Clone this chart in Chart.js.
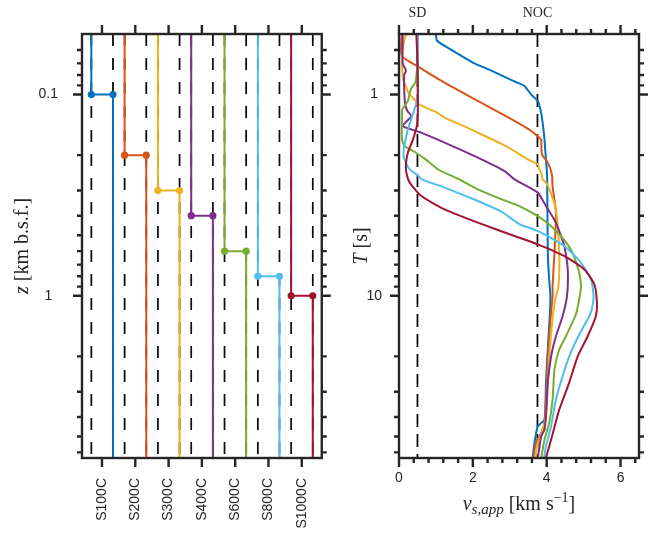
<!DOCTYPE html>
<html>
<head>
<meta charset="utf-8">
<script src="https://cdn.jsdelivr.net/npm/chart.js@4"></script>
<style>
  html, body { margin: 0; padding: 0; background: #fff; }
  #wrap { position: relative; width: 657px; height: 534px; overflow: hidden; background: #fff; }
  canvas { position: absolute; top: 0; }
  #depthChart { left: 0; }
  #periodChart { left: 340px; }
</style>
</head>
<body>
<div id="wrap">
  <canvas id="depthChart" width="340" height="534"></canvas>
  <canvas id="periodChart" width="317" height="534"></canvas>
</div>
<script>
// ---------------- model set ----------------
const models = ['S100C', 'S200C', 'S300C', 'S400C', 'S600C', 'S800C', 'S1000C'];
const interfaceDepth = [0.1, 0.2, 0.3, 0.4, 0.6, 0.8, 1.0];          // km b.s.f.
const modelColors = ['#0072BD', '#D95319', '#EDB120', '#7E2F8E', '#77AC30', '#4DBEEE', '#A2142F'];

// reference shear velocities (km/s)
const refVelocity = [0.5, 3.75];
const refLabels = ['SD', 'NOC'];

const depthRange = [0.05, 6.4];     // km b.s.f.
const periodRange = [0.5, 64];      // s
const velocityRange = [0, 6.5];     // km/s

// ---------------- apparent velocity vs period ----------------
const period_S100C = [0.5, 0.54, 0.6, 0.693, 0.76, 0.823, 0.872, 0.906, 1.0, 1.076, 1.183, 1.378, 1.669, 2.1, 2.5, 4.0, 6.0, 8.0, 10.0, 12.0, 15.9, 27.0, 41.3, 44.5, 53.7, 64];
const vs_S100C     = [1.00, 1.03, 1.42, 2.00, 2.50, 2.90, 3.20, 3.40, 3.58, 3.76, 3.83, 3.89, 3.94, 3.98, 4.01, 4.02, 4.03, 4.06, 4.10, 4.09, 4.05, 3.98, 3.94, 3.76, 3.67, 3.62];

const period_S200C = [0.5, 0.643, 0.734, 0.872, 1.076, 1.353, 1.517, 1.637, 1.669, 1.98, 2.18, 2.49, 2.85, 3.87, 6.1, 8.94, 10.0, 12.0, 15.9, 20.7, 32.9, 42.7, 48, 53.8, 64];
const vs_S200C     = [0.07, 0.08, 0.56, 1.235, 2.135, 3.127, 3.58, 3.80, 3.85, 3.87, 4.03, 4.14, 4.16, 4.25, 4.21, 4.16, 4.16, 4.12, 4.07, 4.03, 3.98, 3.94, 3.85, 3.71, 3.64];

const period_S300C = [0.5, 0.531, 0.6, 0.693, 0.839, 0.923, 0.977, 1.06, 1.139, 1.22, 1.301, 1.42, 1.546, 1.75, 1.909, 2.099, 2.222, 2.353, 2.444, 2.64, 2.75, 3.0, 3.72, 6.11, 8.96, 10.05, 12.39, 19.98, 39.7, 46.3, 53.7, 64];
const vs_S300C     = [0.20, 0.15, 0.10, 0.08, 0.11, 0.20, 0.25, 0.42, 0.62, 1.0, 1.235, 1.70, 2.135, 2.75, 3.127, 3.486, 3.757, 3.80, 3.85, 3.89, 3.99, 4.09, 4.25, 4.34, 4.32, 4.25, 4.17, 4.07, 3.98, 3.89, 3.76, 3.68];

const period_S400C = [0.5, 0.7, 0.76, 0.80, 1.1, 1.2, 1.28, 1.433, 1.546, 1.733, 2.058, 2.40, 2.64, 3.07, 3.40, 3.8, 4.33, 5.0, 5.67, 7.4, 10.05, 12.64, 15.89, 19.98, 27.0, 39.7, 46.3, 50, 64];
const vs_S400C     = [0.10, 0.10, 0.19, 0.14, 0.16, 0.22, 0.33, 0.11, 0.60, 1.235, 2.135, 2.86, 3.13, 3.76, 3.91, 4.07, 4.25, 4.38, 4.48, 4.57, 4.55, 4.43, 4.25, 4.12, 4.03, 3.98, 3.94, 3.85, 3.76];

const period_S600C = [0.5, 0.6, 0.72, 0.808, 0.872, 0.94, 1.076, 1.183, 1.3, 1.669, 1.80, 1.94, 2.1, 2.35, 2.62, 2.96, 3.3, 3.583, 4.02, 4.4, 4.86, 5.5, 6.11, 6.85, 7.68, 8.96, 10.4, 12.39, 15.89, 18.5, 23.3, 32.8, 42.7, 51.9, 64];
const vs_S600C     = [0.51, 0.51, 0.50, 0.47, 0.44, 0.32, 0.24, 0.09, 0.08, 0.08, 0.15, 0.45, 0.72, 1.05, 1.6, 2.135, 2.75, 3.26, 3.76, 4.05, 4.30, 4.55, 4.70, 4.80, 4.88, 4.93, 4.88, 4.79, 4.52, 4.34, 4.21, 4.16, 4.07, 3.94, 3.85];

const period_S800C = [0.5, 1.0, 1.1, 1.278, 1.45, 1.6, 1.87, 2.05, 2.33, 2.52, 2.64, 2.9, 3.38, 3.8, 4.40, 4.77, 5.2, 5.665, 6.3, 6.85, 8.3, 10.05, 11.7, 12.64, 15.89, 19.98, 25.12, 32.8, 44.5, 56, 64];
const vs_S800C     = [0.51, 0.51, 0.47, 0.36, 0.26, 0.20, 0.13, 0.13, 0.27, 0.50, 0.62, 1.235, 2.135, 2.75, 3.26, 3.76, 4.15, 4.48, 4.75, 4.93, 5.20, 5.27, 5.22, 5.15, 4.86, 4.61, 4.43, 4.25, 4.12, 3.98, 3.93];

const period_S1000C = [0.5, 0.693, 1.016, 1.378, 1.669, 1.943, 2.2, 2.45, 2.74, 3.195, 3.721, 4.33, 5.145, 5.556, 6.353, 7.398, 8.786, 10.83, 12.64, 15.89, 19.98, 27.0, 36.8, 47.2, 64];
const vs_S1000C     = [0.47, 0.50, 0.51, 0.50, 0.38, 0.24, 0.19, 0.20, 0.29, 0.605, 1.235, 2.135, 3.26, 3.76, 4.48, 5.02, 5.29, 5.36, 5.33, 5.11, 4.84, 4.61, 4.34, 4.18, 3.98];

const periods = [period_S100C, period_S200C, period_S300C, period_S400C, period_S600C, period_S800C, period_S1000C];
const velocities = [vs_S100C, vs_S200C, vs_S300C, vs_S400C, vs_S600C, vs_S800C, vs_S1000C];

// ---------------- tick values ----------------
const depthMajor = [0.1, 1];
const depthMinor = [0.06, 0.07, 0.08, 0.09, 0.2, 0.3, 0.4, 0.5, 0.6, 0.7, 0.8, 0.9, 2, 3, 4, 5, 6];
const periodMajor = [1, 10];
const periodMinor = [0.6, 0.7, 0.8, 0.9, 2, 3, 4, 5, 6, 7, 8, 9, 20, 30, 40, 50, 60];
const velocityMajor = [0, 2, 4, 6];
const velocityMinor = [0.4, 0.8, 1.2, 1.6, 2.4, 2.8, 3.2, 3.6, 4.4, 4.8, 5.2, 5.6, 6.4];
const columnTicks = [1, 2, 3, 4, 5, 6, 7];

// ---------------- styling ----------------
const AXIS = '#262626';
const SANS = '"Liberation Sans", Arial, sans-serif';
const SERIF = '"Liberation Serif", "Times New Roman", serif';
const MAJOR_LEN = 9, MINOR_LEN = 5;

// column layout of the velocity profiles: each model occupies one unit,
// velocity is drawn as a small offset around the column centre
const COL_CENTER_V = 2.1, COL_SCALE = 0.2;
const colX = (i, v) => i + 1 + (v - COL_CENTER_V) * COL_SCALE;

// frame with outward ticks on all four sides
function framePlugin(xMajor, xMinor, yMajor, yMinor) {
  return {
    id: 'frame',
    afterDatasetsDraw(chart) {
      const { ctx, chartArea: a, scales: { x, y } } = chart;
      ctx.save();
      ctx.strokeStyle = AXIS;
      ctx.lineWidth = 2.4;
      ctx.lineCap = 'butt';
      ctx.beginPath();
      const xt = xMajor.map(v => [v, MAJOR_LEN]).concat(xMinor.map(v => [v, MINOR_LEN]));
      xt.forEach(([v, len]) => {
        const px = x.getPixelForValue(v);
        ctx.moveTo(px, a.top); ctx.lineTo(px, a.top - len);
        ctx.moveTo(px, a.bottom); ctx.lineTo(px, a.bottom + len);
      });
      const yt = yMajor.map(v => [v, MAJOR_LEN]).concat(yMinor.map(v => [v, MINOR_LEN]));
      yt.forEach(([v, len]) => {
        const py = y.getPixelForValue(v);
        ctx.moveTo(a.left, py); ctx.lineTo(a.left - len, py);
        ctx.moveTo(a.right, py); ctx.lineTo(a.right + len, py);
      });
      ctx.stroke();
      ctx.strokeRect(a.left, a.top, a.right - a.left, a.bottom - a.top);
      ctx.restore();
    }
  };
}

// mixed-font text (italic symbols, sub/superscripts)
function drawRuns(ctx, runs, cx, cy, angle) {
  ctx.save();
  ctx.translate(cx, cy);
  ctx.rotate(angle);
  ctx.fillStyle = AXIS;
  ctx.textBaseline = 'middle';
  ctx.textAlign = 'left';
  let total = 0;
  runs.forEach(r => { ctx.font = r.font; r.w = ctx.measureText(r.t).width; total += r.w; });
  let x = -total / 2;
  runs.forEach(r => { ctx.font = r.font; ctx.fillText(r.t, x, r.dy || 0); x += r.w; });
  ctx.restore();
}

const F_IT = 'italic 20px ' + SERIF;
const F_RM = '20px ' + SERIF;
const F_SUB_IT = 'italic 15px ' + SERIF;
const F_SUP_RM = '14px ' + SERIF;

// ---------------- left: velocity profiles vs depth ----------------
const depthDatasets = [];
models.forEach((m, i) => {
  refVelocity.forEach(v => {
    depthDatasets.push({
      data: [{ x: colX(i, v), y: depthRange[0] }, { x: colX(i, v), y: depthRange[1] }],
      showLine: true, borderColor: '#000', borderWidth: 1.7, borderDash: [12, 12],
      pointRadius: 0, order: 100
    });
  });
});
models.forEach((m, i) => {
  const xs = colX(i, refVelocity[0]);
  const xc = colX(i, refVelocity[1]);
  const d = interfaceDepth[i];
  depthDatasets.push({
    label: m,
    data: [{ x: xs, y: depthRange[0] }, { x: xs, y: d }, { x: xc, y: d }, { x: xc, y: depthRange[1] }],
    showLine: true, borderColor: modelColors[i], borderWidth: 2,
    pointRadius: c => (c.dataIndex === 1 || c.dataIndex === 2) ? 3.6 : 0,
    pointBackgroundColor: modelColors[i], pointBorderWidth: 0,
    order: 7 - i
  });
});

new Chart(document.getElementById('depthChart'), {
  type: 'scatter',
  data: { datasets: depthDatasets },
  options: {
    responsive: false, animation: false, devicePixelRatio: 1,
    layout: { padding: { top: 34, right: 17, left: 0, bottom: 0 } },
    plugins: { legend: { display: false }, tooltip: { enabled: false } },
    scales: {
      x: {
        type: 'linear', min: 0.4, max: 7.6,
        grid: { display: false, drawTicks: false }, border: { display: false },
        afterBuildTicks: s => { s.ticks = columnTicks.map(v => ({ value: v })); },
        afterFit: s => { s.height = 76; },
        ticks: {
          autoSkip: false, minRotation: 90, maxRotation: 90, padding: 20,
          color: AXIS, font: { family: SANS, size: 14 },
          callback: v => models[v - 1]
        }
      },
      y: {
        type: 'logarithmic', reverse: true, min: depthRange[0], max: depthRange[1],
        grid: { display: false, drawTicks: false }, border: { display: false },
        afterBuildTicks: s => { s.ticks = depthMajor.map(v => ({ value: v })); },
        afterFit: s => { s.width = 82; },
        ticks: {
          crossAlign: 'center', padding: 24,
          color: AXIS, font: { family: SANS, size: 14 },
          callback: v => String(v)
        }
      }
    }
  },
  plugins: [
    framePlugin(columnTicks, [], depthMajor, depthMinor),
    {
      id: 'depthTitle',
      afterDraw(chart) {
        const a = chart.chartArea;
        drawRuns(chart.ctx, [
          { t: 'z', font: F_IT },
          { t: ' [km b.s.f.]', font: F_RM }
        ], 23, (a.top + a.bottom) / 2, -Math.PI / 2);
      }
    }
  ]
});

// ---------------- right: apparent velocity vs period ----------------
const periodDatasets = [];
refVelocity.forEach(v => {
  periodDatasets.push({
    data: [{ x: v, y: periodRange[0] }, { x: v, y: periodRange[1] }],
    showLine: true, borderColor: '#000', borderWidth: 1.7, borderDash: [13, 7],
    pointRadius: 0, order: 100
  });
});
models.forEach((m, i) => {
  periodDatasets.push({
    label: m,
    data: periods[i].map((T, k) => ({ x: velocities[i][k], y: T })),
    showLine: true, borderColor: modelColors[i], borderWidth: 2,
    pointRadius: 0, tension: 0.2, order: 7 - i
  });
});

new Chart(document.getElementById('periodChart'), {
  type: 'scatter',
  data: { datasets: periodDatasets },
  options: {
    responsive: false, animation: false, devicePixelRatio: 1,
    layout: { padding: { top: 34, right: 18, left: 0, bottom: 0 } },
    plugins: { legend: { display: false }, tooltip: { enabled: false } },
    scales: {
      x: {
        type: 'linear', min: velocityRange[0], max: velocityRange[1],
        grid: { display: false, drawTicks: false }, border: { display: false },
        afterBuildTicks: s => { s.ticks = velocityMajor.map(v => ({ value: v })); },
        afterFit: s => { s.height = 76; },
        ticks: {
          autoSkip: false, maxRotation: 0, padding: 12,
          color: AXIS, font: { family: SANS, size: 14 },
          callback: v => String(v)
        }
      },
      y: {
        type: 'logarithmic', reverse: true, min: periodRange[0], max: periodRange[1],
        grid: { display: false, drawTicks: false }, border: { display: false },
        afterBuildTicks: s => { s.ticks = periodMajor.map(v => ({ value: v })); },
        afterFit: s => { s.width = 59; },
        ticks: {
          crossAlign: 'center', padding: 17,
          color: AXIS, font: { family: SANS, size: 14 },
          callback: v => String(v)
        }
      }
    }
  },
  plugins: [
    framePlugin(velocityMajor, velocityMinor, periodMajor, periodMinor),
    {
      id: 'periodTitles',
      afterDraw(chart) {
        const { ctx, chartArea: a, scales: { x } } = chart;
        drawRuns(ctx, [
          { t: 'T', font: F_IT },
          { t: ' [s]', font: F_RM }
        ], 22, (a.top + a.bottom) / 2, -Math.PI / 2);
        drawRuns(ctx, [
          { t: 'v', font: F_IT },
          { t: 's,app', font: F_SUB_IT, dy: 5 },
          { t: ' [km s', font: F_RM },
          { t: '\u22121', font: F_SUP_RM, dy: -7 },
          { t: ']', font: F_RM }
        ], (a.left + a.right) / 2, 505, 0);
        ctx.save();
        ctx.fillStyle = AXIS;
        ctx.font = '14px ' + SERIF;
        ctx.textAlign = 'center';
        ctx.textBaseline = 'middle';
        refVelocity.forEach((v, k) => ctx.fillText(refLabels[k], x.getPixelForValue(v), 13));
        ctx.restore();
      }
    }
  ]
});
</script>
</body>
</html>
